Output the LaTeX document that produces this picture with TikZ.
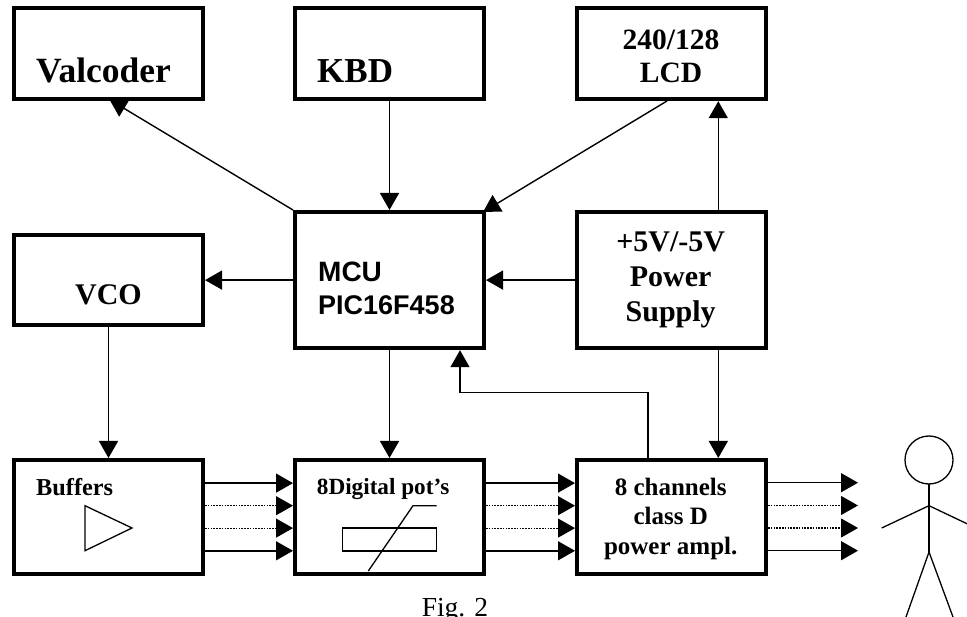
\documentclass[tikz,border=0pt]{standalone}
\usepackage{fontspec}
\setmainfont{Liberation Serif}
\setsansfont{Liberation Sans}
\usetikzlibrary{arrows.meta,calc,backgrounds}
\newcommand{\bsz}[1]{\fontsize{#1}{#1}\selectfont\bfseries}
\tikzset{
  blockbox/.style={draw=black,fill=white,line width=4.2pt,inner sep=0pt,minimum width=188.8pt,anchor=north west},
  lab/.style={inner sep=0pt,anchor=base},
  labl/.style={inner sep=0pt,anchor=base west},
  conn/.style={line width=1.4pt,-{Triangle[length=17pt,width=19pt]}},
  dotconn/.style={line width=1.1pt,dash pattern=on 1.6pt off 1.2pt,-{Triangle[length=17pt,width=19pt]}},
  thin shape/.style={line width=1.3pt},
}
\begin{document}
\begin{tikzpicture}[x=1pt,y=-1pt]
\useasboundingbox (0,0) rectangle (967,617);
\clip (0,0) rectangle (967,617);
% boxes (positions are outer corners)
\node[blockbox,minimum height=91pt] (val) at (12,6) {};
\node[blockbox,minimum height=91pt] (kbd) at (293,6) {};
\node[blockbox,minimum height=91pt] (lcd) at (575,6) {};
\node[blockbox,minimum height=90pt] (vco) at (12,233) {};
\node[blockbox,minimum height=136pt] (mcu) at (293,210) {};
\node[blockbox,minimum height=136pt] (psu) at (575,210) {};
\node[blockbox,minimum height=114pt] (buf) at (12,458) {};
\node[blockbox,minimum height=114pt] (pot) at (293,458) {};
\node[blockbox,minimum height=114pt] (amp) at (575,458) {};
% labels
\node[labl,font=\bsz{35.5}] (tval) at (36,83) {Valcoder};
\node[labl,font=\bsz{35}] (tkbd) at (317,83) {KBD};
\node[lab,font=\bsz{29.5}] (tlcd1) at (671,50) {240/128};
\node[lab,font=\bsz{29.5}] (tlcd2) at (671,83) {LCD};
\node[lab,font=\bsz{30}] (tvco) at (108.5,305) {VCO};
\node[labl,font=\bsz{28}\sffamily] (tmcu1) at (318,281.7) {MCU};
\node[labl,font=\bsz{27}\sffamily] (tmcu2) at (318,315) {PIC16F458};
\node[lab,font=\bsz{30}] (tpsu1) at (670.7,251.7) {+5V/-5V};
\node[lab,font=\bsz{30}] (tpsu2) at (670.7,287) {Power};
\node[lab,font=\bsz{30}] (tpsu3) at (670.7,321.7) {Supply};
\node[labl,font=\bsz{24.3}] (tbuf) at (36,495.7) {Buffers};
\node[labl,font=\bsz{23.2}] (tpot) at (316.7,494) {8Digital pot’s};
\node[lab,font=\bsz{25}] (tamp1) at (670.7,496) {8 channels};
\node[lab,font=\bsz{25}] (tamp2) at (670.7,525) {class D};
\node[lab,font=\bsz{25}] (tamp3) at (670.7,554) {power ampl.};
\node[inner sep=0pt,anchor=base,font=\fontsize{27.5}{27.5}\selectfont] (tfig) at (455,616.5) {Fig. 2};
% free ends
\coordinate (e1) at (858,482.7);
\coordinate (e2) at (858,505.5);
\coordinate (e3) at (858,528);
\coordinate (e4) at (858,550.7);
\coordinate (vtip) at (109.6,99.7);
\coordinate (lcdout) at (667,101);
\coordinate (mcutip) at (483,212);
\begin{scope}[on background layer]
\draw[conn] (mcu.north west) -- (vtip);
\draw[conn] (kbd.south) -- (mcu.north);
\draw[conn] (lcdout) -- (mcutip);
\draw[conn] (psu.north -| 718.3,0) -- (lcd.south -| 718.3,0);
\draw[conn] (mcu.west) -- (vco.east);
\draw[conn] (psu.west) -- (mcu.east);
\draw[conn] (vco.south) -- (buf.north);
\draw[conn] (mcu.south) -- (pot.north);
\draw[conn] (psu.south -| 718.3,0) -- (amp.north -| 718.3,0);
\draw[conn] (amp.north -| 648,0) -- (648,392.7) -- (460,392.7) -- (mcu.south -| 460,0);
\foreach \a/\b in {buf/pot,pot/amp}{
  \draw[conn] ($(\a.east)+(0,-34)$) -- ($(\b.west)+(0,-34)$);
  \draw[dotconn] ($(\a.east)+(0,-11.4)$) -- ($(\b.west)+(0,-11.4)$);
  \draw[dotconn] ($(\a.east)+(0,11)$) -- ($(\b.west)+(0,11)$);
  \draw[conn] ($(\a.east)+(0,33.7)$) -- ($(\b.west)+(0,33.7)$);
}
\draw[conn] (amp.east |- e1) -- (e1);
\draw[dotconn] (amp.east |- e2) -- (e2);
\draw[dotconn] (amp.east |- e3) -- (e3);
\draw[conn] (amp.east |- e4) -- (e4);
\end{scope}
% buffer symbol
\draw[thin shape] (85,505.7) -- (85,550.7) -- (132,528) -- cycle;
% potentiometer symbol
\draw[thin shape] (342.7,528) rectangle (436.7,551);
\draw[thin shape] (368.3,571) -- (413,505.7) -- (436.7,505.7);
% person
\draw[thin shape] (929,460) circle (24);
\draw[thin shape] (929,484) -- (929,552);
\draw[thin shape] (881.7,528) -- (929,505.7) -- (976,528);
\draw[thin shape] (906,617) -- (929,552) -- (953,617);
\end{tikzpicture}
\end{document}
